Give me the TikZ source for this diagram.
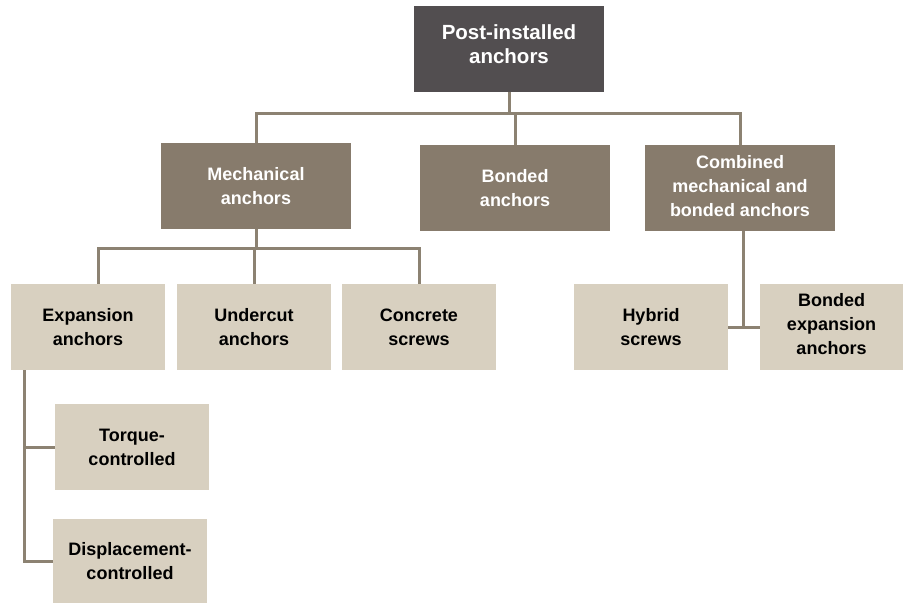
\documentclass[tikz,border=0pt]{standalone}
\usepackage{fontspec}
\setmainfont{Liberation Sans}
\definecolor{rootc}{HTML}{524E50}
\definecolor{midc}{HTML}{877B6C}
\definecolor{leafc}{HTML}{D8D0C0}
\definecolor{linec}{HTML}{8C8272}
\begin{document}
\begin{tikzpicture}[x=1pt,y=-1pt,
  box/.style={inner sep=2pt,align=center,font=\bfseries\fontsize{18}{24}\selectfont},
  rootbox/.style={box,fill=rootc,minimum width=190pt,minimum height=86pt},
  roottext/.style={align=center,text=white,font=\bfseries\fontsize{20.5}{24.5}\selectfont},
  midbox/.style={box,fill=midc,text=white,minimum width=190pt,minimum height=86pt},
  leafbox/.style={box,fill=leafc,text=black,minimum width=154pt,minimum height=86pt},
  conn/.style={draw=linec,line width=3pt}]
\useasboundingbox (0,0) rectangle (903,603);
\node[rootbox,label={[roottext,yshift=5pt]center:Post-installed\\anchors}] (root) at (509,49) {};
\node[midbox] (mech) at (256,186) {Mechanical\\anchors};
\node[midbox] (bond) at (515,188) {Bonded\\anchors};
\node[midbox,label={[box,text=white,yshift=2pt]center:Combined\\mechanical and\\bonded anchors}] (comb) at (740,188) {};
\node[leafbox] (exp) at (88,327) {Expansion\\anchors};
\node[leafbox] (und) at (254,327) {Undercut\\anchors};
\node[leafbox] (con) at (419,327) {Concrete\\screws};
\node[leafbox] (hyb) at (651,327) {Hybrid\\screws};
\node[leafbox,minimum width=143pt,label={[box,yshift=3pt]center:Bonded\\expansion\\anchors}] (bexp) at (831.5,327) {};
\node[leafbox] (tor) at (132,447) {Torque-\\controlled};
\node[leafbox,minimum height=84pt] (dis) at (130,561) {Displacement-\\controlled};
\coordinate (bus) at (0,113);
\coordinate (busm) at (0,248);
\draw[conn] (root.south) -- (root.south |- bus);
\draw[conn] (mech.north) -- (mech.north |- bus) -- (comb.north |- bus) -- (comb.north);
\draw[conn] (bond.north) -- (bond.north |- bus);
\coordinate (expt) at ([xshift=10pt]exp.north);
\draw[conn] (expt) -- (expt |- busm) -- (con.north |- busm) -- (con.north);
\draw[conn] (mech.south) -- (mech.south |- busm);
\draw[conn] (und.north) -- (und.north |- busm);
\coordinate (expb) at ([xshift=14pt]exp.south west);
\draw[conn] (expb) -- (expb |- dis.west) -- (dis.west);
\draw[conn] (expb |- tor.west) -- (tor.west);
\draw[conn] ([xshift=3pt]comb.south) -- ([xshift=3pt]comb.south |- hyb.east);
\draw[conn] (hyb.east) -- (bexp.west);
\end{tikzpicture}
\end{document}
